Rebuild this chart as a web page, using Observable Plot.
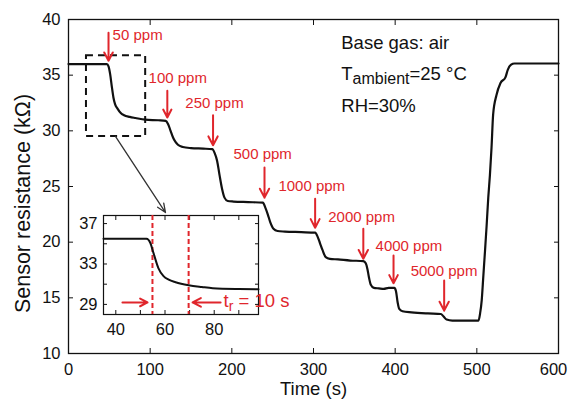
<!DOCTYPE html>
<html>
<head>
<meta charset="utf-8">
<script src="https://cdn.jsdelivr.net/npm/d3@7"></script>
<script src="https://cdn.jsdelivr.net/npm/@observablehq/plot@0.6"></script>
<style>
  body { margin: 0; background: #fff; }
  #wrap { position: relative; width: 568px; height: 399px; overflow: hidden; }
  #inset { position: absolute; left: 74px; top: 213px; }
</style>
</head>
<body>
<div id="wrap"><div id="main"></div><div id="inset"></div></div>
<script>
// ---------- main series ----------
const timeS = [0,47,49,51,53,55,57,60,64,68,75,82,94,110,119,122,125,128,131,134,140,150,165,176,179,182,185,188,191,195,202,220,238,241,244,247,251,256,265,285,302,305,308,311,315,320,330,345,361,364,366,368,370,374,380,386,392,399,401,403,405,409,420,440,456,459,463,470,490,502,504,506,508,510,512,514,516,518,520,524,529,535,538,542,546,600];
const resistanceKOhm = [36.0,36.0,35.8,35.1,34.0,33.0,32.4,32.0,31.6,31.4,31.25,31.15,31.0,30.95,30.9,30.6,30.0,29.4,29.0,28.75,28.55,28.45,28.4,28.35,28.0,27.3,26.0,24.8,24.0,23.7,23.65,23.6,23.55,23.1,22.5,21.8,21.2,21.0,20.95,20.9,20.85,20.5,19.9,19.3,18.65,18.5,18.45,18.35,18.3,18.1,17.6,16.8,16.2,15.9,15.85,15.8,15.9,15.9,15.6,14.6,14.0,13.8,13.7,13.6,13.55,13.35,13.05,12.96,12.95,12.95,13.6,14.8,17.0,19.2,21.5,24.0,26.0,28.5,31.5,33.2,34.3,34.8,35.5,35.95,36.05,36.05];

// ---------- gas dose annotations ----------
const doseLabels = ["50 ppm","100 ppm","250 ppm","500 ppm","1000 ppm","2000 ppm","4000 ppm","5000 ppm"];
const labelTime = [54, 98, 143, 202, 257, 318, 376, 419];
const labelResistance = [38.55, 34.7, 32.5, 27.9, 25.0, 22.2, 19.6, 17.35];
const arrowTime = [49, 121, 177, 240, 302, 361, 398, 460];
const arrowTop = [38.8, 33.6, 31.4, 26.7, 23.9, 21.2, 18.8, 16.55];
const arrowTip = [36.3, 31.2, 28.7, 24.0, 21.3, 18.5, 16.3, 13.85];

// ---------- conditions text ----------
const infoLines = ["Base gas: air", "T_{ambient}=25 °C", "RH=30%"];
const infoTime = 334;
const infoResistance = [37.85, 35.1, 32.2];

// ---------- axis titles ----------
const xTitle = "Time (s)";
const yTitle = "Sensor resistance (kΩ)";

// ---------- zoom box and link ----------
const boxTime = [22, 94.5];
const boxResistance = [29.5, 36.75];
const linkFrom = [57.5, 29.5];
const linkTo = [118.8, 22.66];

// ---------- ticks ----------
const xTicks = [0, 100, 200, 300, 400, 500, 600];
const yTicks = [10, 15, 20, 25, 30, 35, 40];
const insetXTicks = [40, 50, 60, 70, 80, 90];
const insetXLabels = [40, 60, 80];
const insetYTicks = [29, 31, 33, 35, 37];
const insetYLabels = [29, 33, 37];

// ---------- inset series ----------
const insetTime = [35, 52.5, 54, 55.3, 57.3, 59.4, 61.5, 64.3, 69.6, 75, 79.4, 90, 98];
const insetResistance = [35.5, 35.5, 35.1, 34.1, 32.6, 31.8, 31.45, 31.2, 30.9, 30.72, 30.6, 30.52, 30.5];
const responseBounds = [54.9, 69.6];
const insetArrowFrom = [42.7, 82.6];
const insetArrowTo = [52.9, 71.2];
const insetArrowLevel = 29.2;
const trLabel = "t_{r} = 10 s";
const trTime = 83.8;
const trResistance = 29.35;

const FONT = '"Liberation Sans", Arial, Helvetica, sans-serif';
const RED = "#e0262c";
const INK = "#111";

const main = Plot.plot({
  width: 568, height: 399,
  marginLeft: 68, marginRight: 10, marginTop: 19, marginBottom: 46,
  style: {fontFamily: FONT, background: "white", color: INK, overflow: "visible"},
  x: {domain: [0, 600]},
  y: {domain: [10, 40]},
  marks: [
    Plot.frame({stroke: INK, strokeWidth: 1.3}),
    Plot.axisX(xTicks, {anchor: "bottom", tickSize: -5, tickPadding: 14.5, fontSize: 16.5, label: null}),
    Plot.axisX(xTicks, {anchor: "top", tickSize: -5, tickFormat: () => "", label: null}),
    Plot.axisY(yTicks, {anchor: "left", tickSize: -5, tickPadding: 13, fontSize: 16.5, label: null}),
    Plot.axisY(yTicks, {anchor: "right", tickSize: -5, tickFormat: () => "", label: null}),
    Plot.text([xTitle], {frameAnchor: "bottom", lineAnchor: "middle", textAnchor: "middle", dy: 36, fontSize: 18.5, fill: INK}),
    Plot.text([yTitle], {frameAnchor: "left", lineAnchor: "middle", textAnchor: "middle", dx: -45, dy: 17, rotate: -90, fontSize: 21.5, fill: INK}),
    Plot.rect([0], {x1: () => boxTime[0], x2: () => boxTime[1], y1: () => boxResistance[0], y2: () => boxResistance[1],
      fill: "none", stroke: INK, strokeWidth: 2, strokeDasharray: "7,5"}),
    Plot.line(timeS, {x: d => d, y: (d, i) => resistanceKOhm[i], stroke: INK, strokeWidth: 2.2, curve: "monotone-x"}),
    Plot.arrow([0], {x1: () => linkFrom[0], y1: () => linkFrom[1], x2: () => linkTo[0], y2: () => linkTo[1],
      stroke: "#333", strokeWidth: 1.3, headLength: 11, headAngle: 45}),
    Plot.arrow(arrowTime, {x1: d => d, x2: d => d, y1: (d, i) => arrowTop[i], y2: (d, i) => arrowTip[i],
      stroke: RED, strokeWidth: 2, headLength: 9, headAngle: 55}),
    Plot.text(doseLabels, {x: (d, i) => labelTime[i], y: (d, i) => labelResistance[i], text: d => d,
      textAnchor: "start", fill: RED, fontSize: 15}),
    Plot.text(infoLines, {x: () => infoTime, y: (d, i) => infoResistance[i], text: d => d,
      textAnchor: "start", fill: INK, fontSize: 18.5})
  ]
});

const inset = Plot.plot({
  width: 188, height: 125,
  marginLeft: 29, marginRight: 4, marginTop: 2, marginBottom: 24,
  style: {fontFamily: FONT, background: "transparent", color: INK, overflow: "visible"},
  x: {domain: [35, 98]},
  y: {domain: [28, 37.8]},
  marks: [
    Plot.frame({stroke: INK, strokeWidth: 1.2}),
    Plot.axisX(insetXTicks, {anchor: "bottom", tickSize: -4, tickPadding: 12.5, fontSize: 16.5,
      tickFormat: d => insetXLabels.includes(d) ? String(d) : "", label: null}),
    Plot.axisX(insetXTicks, {anchor: "top", tickSize: -4, tickFormat: () => "", label: null}),
    Plot.axisY(insetYTicks, {anchor: "left", tickSize: -4, tickPadding: 10, fontSize: 16.5,
      tickFormat: d => insetYLabels.includes(d) ? String(d) : "", label: null}),
    Plot.axisY(insetYTicks, {anchor: "right", tickSize: -4, tickFormat: () => "", label: null}),
    Plot.ruleX(responseBounds, {x: d => d, stroke: RED, strokeWidth: 2, strokeDasharray: "5,3"}),
    Plot.line(insetTime, {x: d => d, y: (d, i) => insetResistance[i], stroke: INK, strokeWidth: 2, curve: "monotone-x"}),
    Plot.arrow(insetArrowFrom, {x1: d => d, x2: (d, i) => insetArrowTo[i], y1: () => insetArrowLevel, y2: () => insetArrowLevel,
      stroke: RED, strokeWidth: 2, headLength: 9, headAngle: 55}),
    Plot.text([trLabel], {x: () => trTime, y: () => trResistance, text: d => d, textAnchor: "start", fill: RED, fontSize: 18.5})
  ]
});

function applySubscripts(svg, subSize) {
  const ns = "http://www.w3.org/2000/svg";
  svg.querySelectorAll("text").forEach(t => {
    const m = t.textContent.match(/^(.*)_\{(.*)\}(.*)$/);
    if (!m) return;
    while (t.firstChild) t.removeChild(t.firstChild);
    const a = document.createElementNS(ns, "tspan"); a.textContent = m[1];
    const b = document.createElementNS(ns, "tspan"); b.textContent = m[2];
    b.setAttribute("font-size", subSize); b.setAttribute("dy", "4");
    const c = document.createElementNS(ns, "tspan"); c.textContent = m[3]; c.setAttribute("dy", "-4");
    t.appendChild(a); t.appendChild(b); t.appendChild(c);
  });
}
applySubscripts(main, 16);
applySubscripts(inset, 14);

// keep the last x tick label inside the window, as in the reference
const lastTick = String(xTicks[xTicks.length - 1]);
main.querySelectorAll("text").forEach(t => {
  if (t.textContent === lastTick && t.getAttribute("text-anchor") !== "end") t.setAttribute("dx", "-5");
});

document.getElementById("main").appendChild(main);
document.getElementById("inset").appendChild(inset);
</script>
</body>
</html>
